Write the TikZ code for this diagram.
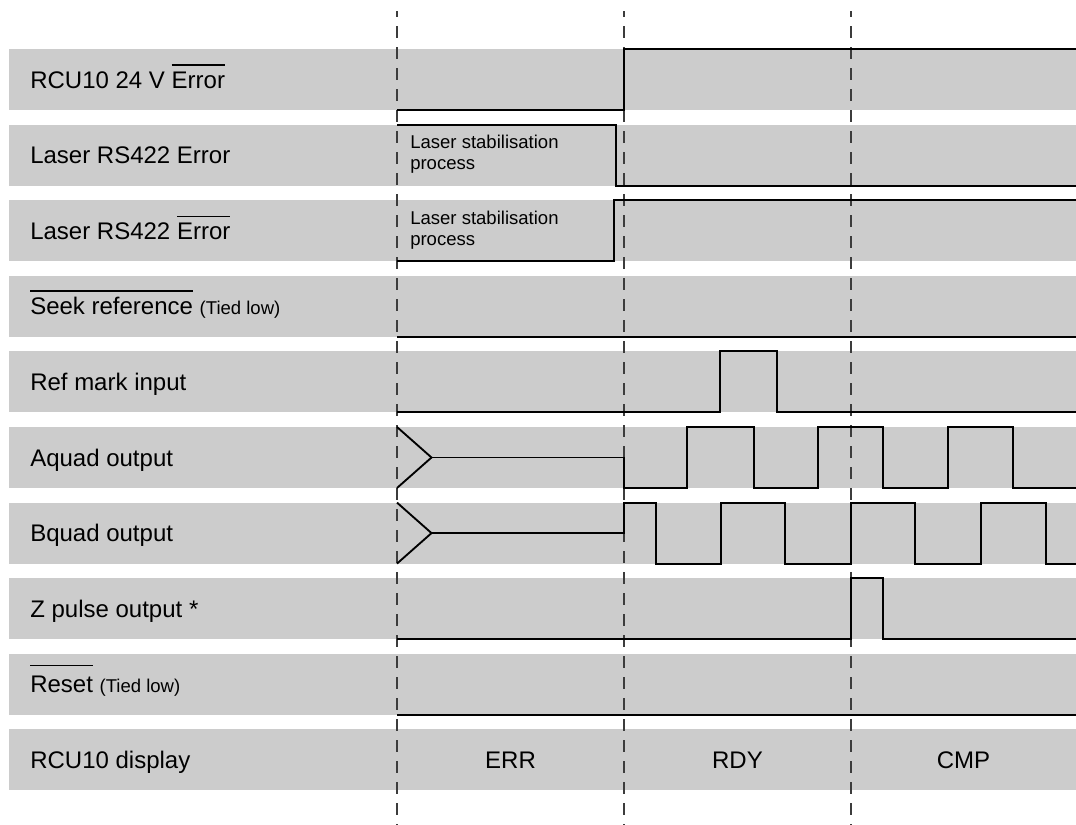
\documentclass[tikz,border=0pt]{standalone}
\usepackage{fontspec}
\setmainfont{Liberation Sans}
\definecolor{bandgray}{RGB}{204,204,204}
\definecolor{markgray}{RGB}{60,60,60}
\newcommand{\barred}[2][4.5pt]{\leavevmode\vbox{\hrule height 0.9pt\kern #1\hbox{#2}}}
\newcommand{\tiedlow}{{\fontsize{13.9}{16}\selectfont (Tied low)}}

\begin{document}
\begin{tikzpicture}[
    x=0.75pt, y=-0.75pt,
    band/.style={fill=bandgray, draw=none},
    signame/.style={anchor=base west, inner sep=0pt, font=\fontsize{18}{21}\selectfont},
    state/.style={anchor=base, inner sep=0pt, font=\fontsize{18}{21}\selectfont},
    note/.style={anchor=north west, align=left, inner sep=0pt, font=\fontsize{13.9}{15.75}\selectfont},
    wave/.style={line width=1.4pt, line join=miter},
    marker/.style={draw=markgray, line width=0.8pt, dash pattern=on 9pt off 6.75pt, dash phase=4.5pt}
    ]

    \useasboundingbox (0,0) rectangle (1076,825);

    % signal bands
    \foreach \i in {0,...,9}
        \fill[band] (9,49+75.6*\i) rectangle (1076,110+75.6*\i);

    % signal names
    \node[signame] (rcu)   at (30,88.1)  {RCU10 24 V \barred{Error}};
    \node[signame] (lerr)  at (30,163.7) {Laser RS422 Error};
    \node[signame] (lnerr) at (30,239.3) {Laser RS422 \barred{Error}};
    \node[signame] (seek)  at (30,314.9) {\barred{Seek reference} \tiedlow};
    \node[signame] (ref)   at (30,390.5) {Ref mark input};
    \node[signame] (aquad) at (30,466.1) {Aquad output};
    \node[signame] (bquad) at (30,541.7) {Bquad output};
    \node[signame] (zpul)  at (30,617.3) {Z pulse output *};
    \node[signame] (reset) at (30,692.9) {\barred[7.5pt]{Reset} \tiedlow};
    \node[signame] (disp)  at (30,768.5) {RCU10 display};

    % stabilisation notes
    \node[note] (stab1) at (410,135) {Laser stabilisation\\process};
    \node[note] (stab2) at (410,210.6) {Laser stabilisation\\process};

    % display states
    \node[state] (err) at (510.5,768.5) {ERR};
    \node[state] (rdy) at (737.5,768.5) {RDY};
    \node[state] (cmp) at (963.5,768.5) {CMP};

    % time markers
    \foreach \t in {397,624,851}
        \draw[marker] (\t,11) -- (\t,825);

    % waveforms
    \draw[wave] (397,110) -- (624,110) -- (624,49) -- (1076,49);
    \draw[wave] (397,124.6) -- (616,124.6) -- (616,185.6) -- (1076,185.6);
    \draw[wave] (397,261.2) -- (614,261.2) -- (614,200.2) -- (1076,200.2);
    \draw[wave] (397,336.8) -- (1076,336.8);
    \draw[wave] (397,412.4) -- (720,412.4) -- (720,351.4) -- (777,351.4) -- (777,412.4) -- (1076,412.4);

    \draw[wave] (397,427) -- (431.5,457.5) -- (397,488);
    \draw[wave] (431.5,457.5) -- (624,457.5) -- (624,488)
        \foreach \a/\b in {687/754,818/883,948/1013} {
            -- (\a,488) -- (\a,427) -- (\b,427) -- (\b,488)
        } -- (1076,488);

    \draw[wave] (397,502.6) -- (431.5,533.1) -- (397,563.6);
    \draw[wave] (431.5,533.1) -- (624,533.1) -- (624,502.6) -- (656,502.6) -- (656,563.6)
        \foreach \a/\b in {721/785,851/915,981/1046} {
            -- (\a,563.6) -- (\a,502.6) -- (\b,502.6) -- (\b,563.6)
        } -- (1076,563.6);

    \draw[wave] (397,639.2) -- (851,639.2) -- (851,578.2) -- (883,578.2) -- (883,639.2) -- (1076,639.2);
    \draw[wave] (397,714.8) -- (1076,714.8);

\end{tikzpicture}
\end{document}
